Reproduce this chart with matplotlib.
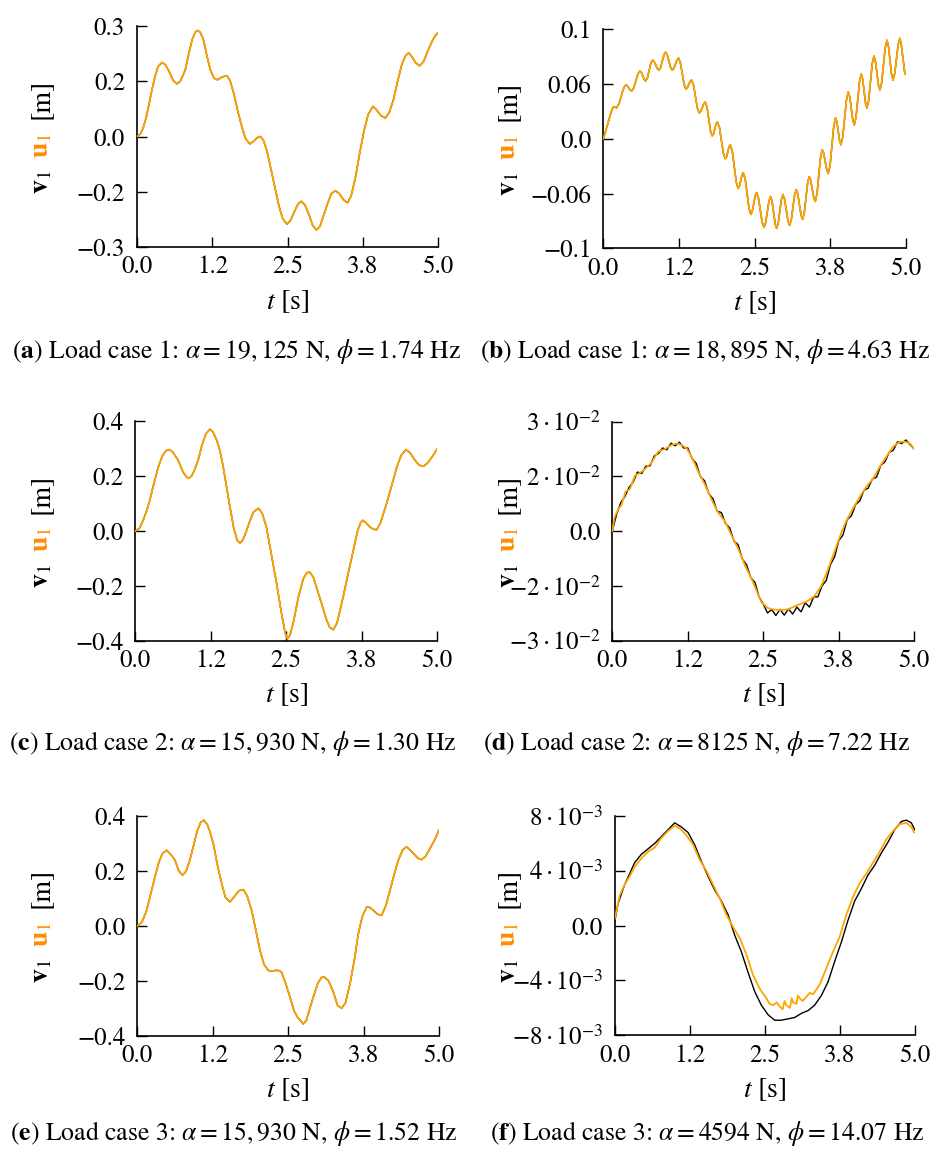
import numpy as np
import matplotlib
matplotlib.use('Agg')
import matplotlib.pyplot as plt

plt.rcParams['font.family'] = 'STIXGeneral'
plt.rcParams['mathtext.fontset'] = 'stix'

W, H = 933, 1155
FS_TICK = 18
FS_LAB = 20
FS_CAP = 18.5
ORANGE = '#FFA500'
LABEL_ORANGE = '#FF8C00'

# ---- panel (a): load case 1, phi = 1.74 Hz (v and u overlap)
t_a = [0, 0.05, 0.1, 0.15, 0.2, 0.25, 0.3, 0.35, 0.415, 0.47, 0.53, 0.6, 0.664,
       0.72, 0.8, 0.86, 0.92, 0.97, 1.008, 1.05, 1.1, 1.16, 1.22, 1.28, 1.34,
       1.42, 1.495, 1.55, 1.61, 1.68, 1.744, 1.8, 1.872, 1.93, 1.99, 2.05, 2.1,
       2.16, 2.22, 2.3, 2.36, 2.42, 2.49, 2.55, 2.62, 2.68, 2.73, 2.79, 2.86,
       2.92, 2.98, 3.04, 3.1, 3.17, 3.23, 3.295, 3.36, 3.43, 3.5, 3.56, 3.63,
       3.7, 3.77, 3.84, 3.92, 3.98, 4.05, 4.125, 4.19, 4.26, 4.33, 4.4, 4.46,
       4.513, 4.56, 4.63, 4.695, 4.76, 4.83, 4.9, 4.96, 5.0]
disp_a = [0, 0.006, 0.022, 0.05, 0.088, 0.128, 0.163, 0.19, 0.201, 0.195, 0.178,
          0.152, 0.143, 0.15, 0.18, 0.225, 0.265, 0.284, 0.288, 0.283, 0.265,
          0.22, 0.18, 0.158, 0.154, 0.162, 0.165, 0.15, 0.115, 0.065, 0.025,
          -0.005, -0.02, -0.014, -0.004, 0.0, -0.01, -0.04, -0.085, -0.145,
          -0.19, -0.223, -0.238, -0.228, -0.202, -0.182, -0.176, -0.186, -0.214,
          -0.242, -0.254, -0.244, -0.214, -0.18, -0.155, -0.147, -0.155, -0.172,
          -0.18, -0.16, -0.11, -0.045, 0.015, 0.06, 0.082, 0.072, 0.057, 0.05,
          0.065, 0.1, 0.15, 0.196, 0.219, 0.227, 0.218, 0.2, 0.192, 0.203, 0.232,
          0.258, 0.275, 0.281]

# ---- panel (b): load case 1, phi = 4.63 Hz
t_b = [0, 0.06, 0.12, 0.145, 0.165, 0.19, 0.22, 0.265, 0.32, 0.35,
       0.375, 0.395, 0.42, 0.445, 0.468, 0.503, 0.571, 0.606, 0.630, 0.677,
       0.70, 0.729, 0.786, 0.815, 0.841, 0.894, 0.92, 0.948, 1.003, 1.03,
       1.058, 1.113, 1.14, 1.166, 1.219, 1.245, 1.275, 1.336, 1.366, 1.39,
       1.437, 1.46, 1.492, 1.555, 1.587, 1.612, 1.661, 1.686, 1.715, 1.772,
       1.80, 1.822, 1.865, 1.887, 1.92, 1.985, 2.017, 2.038, 2.079, 2.10,
       2.133, 2.198, 2.23, 2.251, 2.293, 2.314, 2.346, 2.409, 2.44, 2.464,
       2.511, 2.535, 2.565, 2.626, 2.656, 2.684, 2.739, 2.766, 2.791, 2.841,
       2.866, 2.892, 2.944, 2.97, 2.998, 3.053, 3.08, 3.108, 3.163, 3.19,
       3.216, 3.269, 3.295, 3.323, 3.378, 3.405, 3.43, 3.48, 3.505, 3.534,
       3.591, 3.62, 3.645, 3.695, 3.72, 3.75, 3.81, 3.84, 3.862, 3.907,
       3.93, 3.96, 4.02, 4.05, 4.075, 4.125, 4.15, 4.179, 4.236, 4.265,
       4.289, 4.335, 4.359, 4.388, 4.446, 4.475, 4.5, 4.549, 4.574, 4.603,
       4.661, 4.69, 4.715, 4.765, 4.79, 4.818, 4.876, 4.904, 4.925, 4.987]
disp_b = [0, 0.012, 0.025, 0.0295, 0.032, 0.0322, 0.031, 0.036, 0.048, 0.0525,
          0.054, 0.0535, 0.051, 0.049, 0.048, 0.051, 0.065, 0.068, 0.0665, 0.0595,
          0.058, 0.061, 0.076, 0.079, 0.0775, 0.0705, 0.069, 0.0717, 0.0843, 0.087,
          0.0843, 0.0717, 0.069, 0.0708, 0.0792, 0.081, 0.0764, 0.0546, 0.05, 0.0514,
          0.0576, 0.059, 0.054, 0.031, 0.026, 0.0277, 0.0353, 0.037, 0.032, 0.008,
          0.003, 0.005, 0.015, 0.017, 0.0115, -0.0145, -0.020, -0.018, -0.008, -0.006,
          -0.0126, -0.0434, -0.05, -0.0476, -0.0364, -0.034, -0.0403, -0.0697, -0.076, -0.0727,
          -0.0573, -0.054, -0.0593, -0.0838, -0.089, -0.0844, -0.0627, -0.058, -0.0628, -0.0852,
          -0.09, -0.0849, -0.0611, -0.056, -0.0607, -0.0824, -0.087, -0.0816, -0.0564, -0.051,
          -0.0555, -0.0765, -0.081, -0.0746, -0.0445, -0.038, -0.0418, -0.0593, -0.063, -0.0552,
          -0.0188, -0.011, -0.0146, -0.0314, -0.035, -0.0266, 0.0126, 0.021, 0.017, -0.002,
          -0.006, 0.002, 0.039, 0.047, 0.042, 0.019, 0.014, 0.0217, 0.0573, 0.065,
          0.0599, 0.0361, 0.031, 0.0388, 0.0752, 0.083, 0.0779, 0.0541, 0.049, 0.0565,
          0.0915, 0.099, 0.093, 0.065, 0.059, 0.0653, 0.0947, 0.101, 0.0956, 0.065]

# ---- panel (c): load case 2, phi = 1.30 Hz
t_c = [0, 0.07, 0.13, 0.19, 0.24, 0.31, 0.38, 0.45, 0.51, 0.563, 0.62, 0.71, 0.79,
       0.85, 0.883, 0.93, 0.98, 1.04, 1.1, 1.17, 1.236, 1.29, 1.35, 1.40, 1.45,
       1.5, 1.567, 1.63, 1.69, 1.733, 1.78, 1.84, 1.90, 1.96, 2.04, 2.1, 2.17,
       2.24, 2.34, 2.42, 2.48, 2.517, 2.56, 2.62, 2.70, 2.78, 2.84, 2.89, 2.95,
       3.02, 3.085, 3.16, 3.22, 3.28, 3.34, 3.39, 3.44, 3.52, 3.61, 3.68, 3.73,
       3.764, 3.82, 3.885, 3.94, 4.0, 4.06, 4.16, 4.25, 4.33, 4.4, 4.48, 4.55,
       4.63, 4.7, 4.77, 4.84, 4.92, 5.0]
disp_c = [0, 0.01, 0.039, 0.075, 0.112, 0.175, 0.233, 0.275, 0.293, 0.297, 0.288,
          0.258, 0.215, 0.196, 0.193, 0.2, 0.222, 0.258, 0.31, 0.355, 0.371, 0.36,
          0.33, 0.294, 0.24, 0.175, 0.088, 0.01, -0.035, -0.044, -0.033, 0.0,
          0.039, 0.07, 0.083, 0.065, 0.015, -0.07, -0.192, -0.3, -0.37, -0.393,
          -0.38, -0.33, -0.241, -0.175, -0.152, -0.15, -0.17, -0.22, -0.265,
          -0.32, -0.352, -0.36, -0.335, -0.29, -0.241, -0.16, -0.07, 0.0, 0.03,
          0.039, 0.03, 0.015, 0.006, 0.005, 0.03, 0.1, 0.17, 0.233, 0.275, 0.297,
          0.285, 0.258, 0.24, 0.236, 0.248, 0.272, 0.30]

# ---- panel (d): load case 2, phi = 7.22 Hz
t_d_u = [0, 0.04, 0.1, 0.155, 0.22, 0.29, 0.375, 0.46, 0.54, 0.65, 0.76, 0.87,
         0.98, 1.065, 1.15, 1.23, 1.31, 1.42, 1.535, 1.645, 1.755, 1.865, 1.975,
         2.09, 2.2, 2.31, 2.39, 2.47, 2.58, 2.69, 2.8, 2.91, 3.02, 3.13, 3.24,
         3.35, 3.46, 3.57, 3.68, 3.79, 3.87, 3.99, 4.1, 4.21, 4.32, 4.43, 4.54,
         4.65, 4.76, 4.85, 4.93, 5.0]
u_d = [0, 0.004, 0.006, 0.0073, 0.0109, 0.0115, 0.0152, 0.016, 0.017, 0.0188,
       0.0218, 0.0225, 0.0236, 0.024, 0.0236, 0.0227, 0.0205, 0.0164, 0.0127,
       0.0086, 0.005, 0.0027, -0.0012, -0.005, -0.0095, -0.0132, -0.0164,
       -0.0195, -0.0211, -0.0215, -0.0216, -0.0214, -0.0206, -0.0198, -0.0191,
       -0.0177, -0.015, -0.0105, -0.0055, -0.0005, 0.0027, 0.0064, 0.0095,
       0.0123, 0.0145, 0.0177, 0.0205, 0.0232, 0.0245, 0.0245, 0.024, 0.0225]
# reference solution sampled on a uniform grid (73 samples over 5 s)
v_d = [0.0, 0.0045, 0.0078, 0.0095, 0.0120, 0.0135, 0.0162, 0.0158, 0.0178,
       0.0179, 0.0206, 0.0213, 0.0228, 0.0223, 0.0241, 0.0234, 0.0244, 0.0228,
       0.0228, 0.0199, 0.0186, 0.0150, 0.0138, 0.0103, 0.0089, 0.0055, 0.0051,
       0.0021, 0.0009, -0.0027, -0.0037, -0.0076, -0.0092, -0.0127, -0.0140,
       -0.0180, -0.0200, -0.0224, -0.0215, -0.0231, -0.0214, -0.0230, -0.0213,
       -0.0227, -0.0208, -0.0221, -0.0196, -0.0208, -0.0180, -0.0180, -0.0150,
       -0.0135, -0.0092, -0.0070, -0.0026, -0.0010, 0.0032, 0.0042, 0.0073,
       0.0083, 0.0112, 0.0118, 0.0143, 0.0148, 0.0180, 0.0190, 0.0216, 0.0222,
       0.0245, 0.0240, 0.0250, 0.0237, 0.0225]
t_d_v = np.linspace(0, 5, len(v_d))

# ---- panel (e): load case 3, phi = 1.52 Hz
t_e = [0, 0.08, 0.155, 0.22, 0.293, 0.36, 0.42, 0.486, 0.55, 0.624, 0.69, 0.751,
       0.81, 0.87, 0.928, 0.99, 1.05, 1.105, 1.16, 1.21, 1.26, 1.33, 1.398, 1.46,
       1.536, 1.6, 1.68, 1.757, 1.82, 1.895, 1.96, 2.033, 2.1, 2.171, 2.23,
       2.282, 2.34, 2.39, 2.46, 2.53, 2.6, 2.657, 2.751, 2.8, 2.86, 2.917, 2.99,
       3.05, 3.099, 3.17, 3.249, 3.32, 3.387, 3.45, 3.525, 3.6, 3.663, 3.73,
       3.801, 3.85, 3.912, 3.98, 4.05, 4.12, 4.188, 4.26, 4.326, 4.4, 4.464,
       4.53, 4.602, 4.66, 4.713, 4.78, 4.851, 4.93, 5.0]
disp_e = [0, 0.015, 0.057, 0.115, 0.179, 0.235, 0.265, 0.276, 0.262, 0.24, 0.2,
          0.185, 0.2, 0.24, 0.289, 0.345, 0.378, 0.386, 0.37, 0.34, 0.30, 0.22,
          0.155, 0.105, 0.088, 0.105, 0.128, 0.133, 0.11, 0.057, -0.01, -0.089,
          -0.14, -0.162, -0.165, -0.162, -0.162, -0.168, -0.21, -0.259, -0.31,
          -0.333, -0.357, -0.345, -0.3, -0.259, -0.21, -0.188, -0.186, -0.2,
          -0.241, -0.29, -0.3, -0.28, -0.211, -0.12, -0.028, 0.035, 0.069, 0.068,
          0.057, 0.043, 0.039, 0.075, 0.13, 0.19, 0.24, 0.278, 0.289, 0.275,
          0.258, 0.246, 0.242, 0.255, 0.283, 0.315, 0.35]

# ---- panel (f): load case 3, phi = 14.07 Hz
t_f_u = [0, 0.03, 0.083, 0.167, 0.25, 0.333, 0.444, 0.556, 0.667, 0.778, 0.889,
         1.0, 1.083, 1.194, 1.306, 1.417, 1.528, 1.639, 1.75, 1.861, 1.972,
         2.083, 2.194, 2.306, 2.417, 2.528, 2.58, 2.639, 2.7, 2.75, 2.8, 2.83,
         2.861, 2.92, 2.95, 2.972, 3.03, 3.05, 3.083, 3.13, 3.194, 3.25, 3.306,
         3.417, 3.528, 3.639, 3.75, 3.861, 3.972, 4.083, 4.194, 4.306, 4.417,
         4.528, 4.639, 4.75, 4.861, 4.944, 4.99]
u_f = [0.0005, 0.0011, 0.0022, 0.003, 0.0036, 0.0043, 0.0049, 0.0054, 0.0057,
       0.0064, 0.0069, 0.0073, 0.0071, 0.0066, 0.0059, 0.0048, 0.004, 0.003,
       0.002, 0.0008, -0.0001, -0.0009, -0.0021, -0.0036, -0.0046, -0.0053,
       -0.0057, -0.0058, -0.0056, -0.0059, -0.0061, -0.0055, -0.0058, -0.006,
       -0.0053, -0.0056, -0.0057, -0.0051, -0.0053, -0.0055, -0.0052, -0.0049,
       -0.005, -0.0043, -0.0031, -0.0019, -0.0008, 0.0008, 0.0021, 0.0031,
       0.0038, 0.0046, 0.0054, 0.0063, 0.0069, 0.0074, 0.0075, 0.0072, 0.0068]
t_f_v = [0, 0.055, 0.167, 0.333, 0.444, 0.667, 0.778, 0.889, 1.0, 1.111, 1.222,
         1.333, 1.444, 1.556, 1.667, 1.778, 1.889, 2.0, 2.111, 2.222, 2.333,
         2.444, 2.556, 2.667, 2.778, 2.889, 3.0, 3.111, 3.222, 3.333, 3.444,
         3.556, 3.667, 3.778, 3.889, 4.0, 4.111, 4.222, 4.333, 4.444, 4.556,
         4.667, 4.778, 4.861, 4.944, 5.0]
v_f = [0.0003, 0.0016, 0.003, 0.0046, 0.0052, 0.006, 0.0065, 0.007, 0.0075,
       0.0072, 0.0068, 0.0059, 0.0047, 0.0036, 0.0026, 0.0018, 0.0008, -0.0007,
       -0.0019, -0.0034, -0.0048, -0.0058, -0.0065, -0.0069, -0.0069, -0.0068,
       -0.0067, -0.0064, -0.0062, -0.0058, -0.0051, -0.0041, -0.0026, -0.0012,
       0.0004, 0.0018, 0.0027, 0.0037, 0.0044, 0.0053, 0.0061, 0.007, 0.0076,
       0.0077, 0.0075, 0.007]

x_ticks = [0, 1.25, 2.5, 3.75, 5.0]
x_ticklabels = ['0.0', '1.2', '2.5', '3.8', '5.0']

captions = [
    r'($\mathbf{a}$) Load case 1: $\alpha = 19,125$ N, $\phi = 1.74$ Hz',
    r'($\mathbf{b}$) Load case 1: $\alpha = 18,895$ N, $\phi = 4.63$ Hz',
    r'($\mathbf{c}$) Load case 2: $\alpha = 15,930$ N, $\phi = 1.30$ Hz',
    r'($\mathbf{d}$) Load case 2: $\alpha = 8125$ N, $\phi = 7.22$ Hz',
    r'($\mathbf{e}$) Load case 3: $\alpha = 15,930$ N, $\phi = 1.52$ Hz',
    r'($\mathbf{f}$) Load case 3: $\alpha = 4594$ N, $\phi = 14.07$ Hz',
]

yt_03 = ([-0.3, -0.15, 0, 0.15, 0.3], ['\u22120.3', '\u22120.2', '0.0', '0.2', '0.3'])
yt_01 = ([-0.11, -0.055, 0, 0.055, 0.11], ['\u22120.1', '\u22120.06', '0.0', '0.06', '0.1'])
yt_04 = ([-0.4, -0.2, 0, 0.2, 0.4], ['\u22120.4', '\u22120.2', '0.0', '0.2', '0.4'])
yt_3e2 = ([-0.03, -0.015, 0, 0.015, 0.03],
          [r'$-3\cdot10^{-2}$', r'$-2\cdot10^{-2}$', '0.0', r'$2\cdot10^{-2}$', r'$3\cdot10^{-2}$'])
yt_8e3 = ([-0.008, -0.004, 0, 0.004, 0.008],
          [r'$-8\cdot10^{-3}$', r'$-4\cdot10^{-3}$', '0.0', r'$4\cdot10^{-3}$', r'$8\cdot10^{-3}$'])

# panel layout in pixels: axes box, y-label baseline x, caption centre
panels = [
    dict(box=(137, 26, 438, 247), lab_x=48, cap=(236, 352),
         v=(t_a, disp_a), u=(t_a, disp_a), yt=yt_03),
    dict(box=(603.3, 29.3, 905.7, 248.3), lab_x=515, cap=(705, 352),
         v=(t_b, disp_b), u=(t_b, disp_b), yt=yt_01),
    dict(box=(135.3, 421.3, 437.3, 640.7), lab_x=48, cap=(233, 743),
         v=(t_c, disp_c), u=(t_c, disp_c), yt=yt_04),
    dict(box=(612.3, 421.7, 914.3, 640.7), lab_x=515, cap=(697, 743),
         v=(t_d_v, v_d), u=(t_d_u, u_d), yt=yt_3e2),
    dict(box=(137.3, 816.3, 439, 1035.7), lab_x=48, cap=(234, 1134),
         v=(t_e, disp_e), u=(t_e, disp_e), yt=yt_04),
    dict(box=(614.7, 816, 914.7, 1035.3), lab_x=515, cap=(707, 1134),
         v=(t_f_v, v_f), u=(t_f_u, u_f), yt=yt_8e3),
]

fig = plt.figure(figsize=(W / 100, H / 100), dpi=100)

for p, cap in zip(panels, captions):
    left, top, right, bottom = p['box']
    ax = fig.add_axes([left / W, 1 - bottom / H, (right - left) / W, (bottom - top) / H])
    ax.plot(*p['v'], color='black', lw=1.0, zorder=2)
    ax.plot(*p['u'], color=ORANGE, lw=1.3, zorder=3, solid_joinstyle='round')

    ticks, labels = p['yt']
    ax.set_xlim(0, 5)
    ax.set_ylim(ticks[0], ticks[-1])
    ax.set_xticks(x_ticks)
    ax.set_xticklabels(x_ticklabels)
    ax.set_yticks(ticks)
    ax.set_yticklabels(labels)
    for s in ['top', 'right']:
        ax.spines[s].set_visible(False)
    for s in ['left', 'bottom']:
        ax.spines[s].set_linewidth(1.2)
    ax.tick_params(direction='in', length=7.2, width=1.0, labelsize=FS_TICK)
    ax.tick_params(axis='y', pad=8.6)
    ax.tick_params(axis='x', pad=6)

    ax.set_xlabel(r'$t$ [s]', fontsize=FS_LAB)
    ax.xaxis.set_label_coords(0.5, -41 / (bottom - top))

    # multicoloured y label, built from three rotated pieces
    cy = (top + bottom) / 2
    lx = p['lab_x'] / W
    pieces = [(r'$\mathbf{v}_1$', 'black', 57),
              (r'$\mathbf{u}_1$', LABEL_ORANGE, 21),
              ('[m]', 'black', -17.5)]
    for txt, col, off in pieces:
        fig.text(lx, 1 - (cy + off) / H, txt, color=col, fontsize=FS_LAB,
                 rotation=90, rotation_mode='anchor', ha='left', va='baseline')

    fig.text(p['cap'][0] / W, 1 - p['cap'][1] / H, cap, fontsize=FS_CAP,
             ha='center', va='center')

fig.savefig('out.png', dpi=100)
